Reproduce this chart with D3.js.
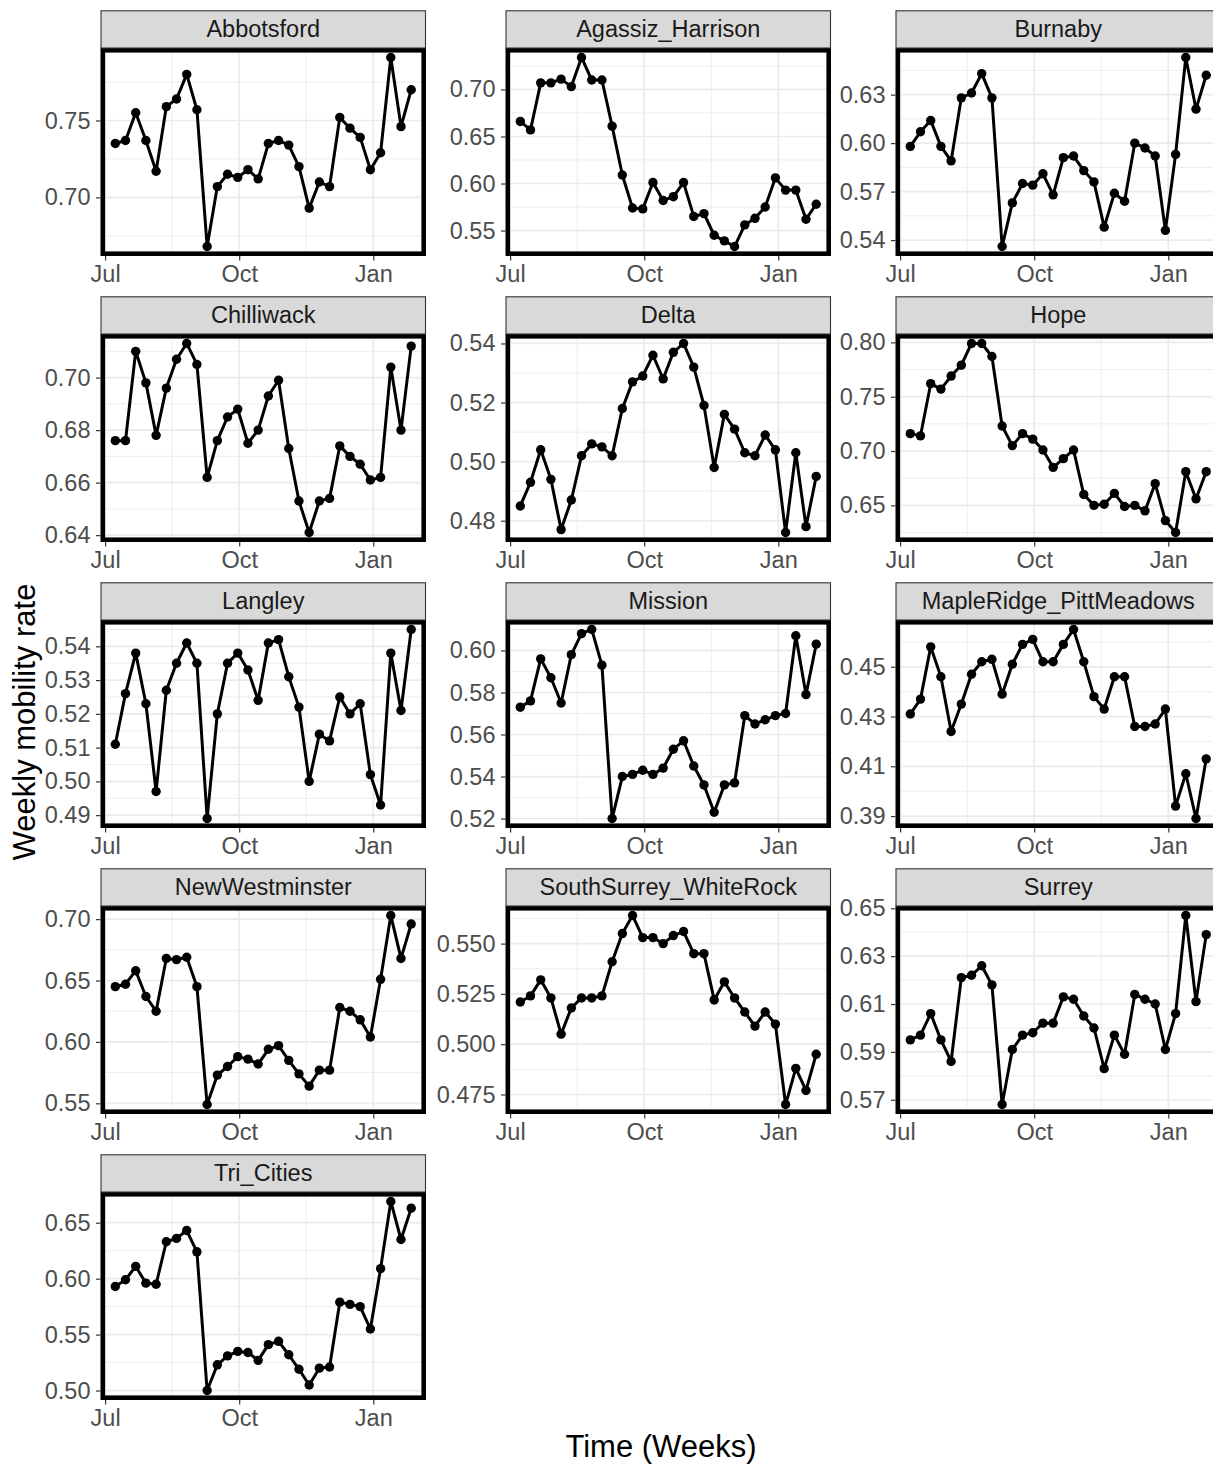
<!DOCTYPE html>
<html>
<head>
<meta charset="utf-8">
<script src="https://cdn.jsdelivr.net/npm/d3@7/dist/d3.min.js"></script>
<style>
  html, body { margin: 0; padding: 0; background: #ffffff; }
  svg { display: block; font-family: "Liberation Sans", Arial, Helvetica, sans-serif; }
</style>
</head>
<body>
<svg id="chart" width="1213" height="1465"></svg>
<script>
// ---------------- DATA ----------------
const facets = ["Abbotsford", "Agassiz_Harrison", "Burnaby", "Chilliwack", "Delta", "Hope",
  "Langley", "Mission", "MapleRidge_PittMeadows", "NewWestminster", "SouthSurrey_WhiteRock",
  "Surrey", "Tri_Cities"];

const weeks = ["2020-07-08","2020-07-15","2020-07-22","2020-07-29","2020-08-05","2020-08-12",
  "2020-08-19","2020-08-26","2020-09-02","2020-09-09","2020-09-16","2020-09-23","2020-09-30",
  "2020-10-07","2020-10-14","2020-10-21","2020-10-28","2020-11-04","2020-11-11","2020-11-18",
  "2020-11-25","2020-12-02","2020-12-09","2020-12-16","2020-12-23","2020-12-30","2021-01-06",
  "2021-01-13","2021-01-20","2021-01-27"];

const xTickDates = ["2020-07-01", "2020-10-01", "2021-01-01"];
const xTickLabels = ["Jul", "Oct", "Jan"];

const abbotsford = [0.735,0.737,0.755,0.737,0.717,0.759,0.764,0.780,0.757,0.668,0.707,0.715,0.713,0.718,0.712,
  0.735,0.737,0.734,0.720,0.693,0.710,0.707,0.752,0.745,0.739,0.718,0.729,0.791,0.746,0.770];
const agassizHarrison = [0.666,0.657,0.707,0.707,0.711,0.703,0.734,0.710,0.710,0.661,0.609,0.574,0.573,0.601,0.582,
  0.586,0.601,0.565,0.568,0.545,0.539,0.533,0.556,0.563,0.575,0.606,0.593,0.593,0.562,0.578];
const burnaby = [0.598,0.607,0.614,0.598,0.589,0.628,0.631,0.643,0.628,0.536,0.563,0.575,0.574,0.581,0.568,
  0.591,0.592,0.583,0.576,0.548,0.569,0.564,0.600,0.597,0.592,0.546,0.593,0.653,0.621,0.642];
const chilliwack = [0.676,0.676,0.710,0.698,0.678,0.696,0.707,0.713,0.705,0.662,0.676,0.685,0.688,0.675,0.680,
  0.693,0.699,0.673,0.653,0.641,0.653,0.654,0.674,0.670,0.667,0.661,0.662,0.704,0.680,0.712];
const delta = [0.485,0.493,0.504,0.494,0.477,0.487,0.502,0.506,0.505,0.502,0.518,0.527,0.529,0.536,0.528,
  0.537,0.540,0.532,0.519,0.498,0.516,0.511,0.503,0.502,0.509,0.504,0.476,0.503,0.478,0.495];
const hope = [0.716,0.714,0.762,0.757,0.769,0.779,0.799,0.799,0.787,0.723,0.705,0.716,0.711,0.701,0.685,
  0.693,0.701,0.660,0.650,0.651,0.661,0.649,0.650,0.645,0.670,0.636,0.625,0.681,0.656,0.681];
const langley = [0.511,0.526,0.538,0.523,0.497,0.527,0.535,0.541,0.535,0.489,0.520,0.535,0.538,0.533,0.524,
  0.541,0.542,0.531,0.522,0.500,0.514,0.512,0.525,0.520,0.523,0.502,0.493,0.538,0.521,0.545];
const mission = [0.573,0.576,0.596,0.587,0.575,0.598,0.608,0.610,0.593,0.520,0.540,0.541,0.543,0.541,0.544,
  0.553,0.557,0.545,0.536,0.523,0.536,0.537,0.569,0.565,0.567,0.569,0.570,0.607,0.579,0.603];
const mapleRidgePittMeadows = [0.431,0.437,0.458,0.446,0.424,0.435,0.447,0.452,0.453,0.439,0.451,0.459,0.461,0.452,0.452,
  0.459,0.465,0.452,0.438,0.433,0.446,0.446,0.426,0.426,0.427,0.433,0.394,0.407,0.389,0.413];
const newWestminster = [0.645,0.647,0.658,0.637,0.625,0.668,0.667,0.669,0.645,0.549,0.573,0.580,0.588,0.586,0.582,
  0.594,0.597,0.585,0.574,0.564,0.577,0.577,0.628,0.625,0.618,0.604,0.651,0.703,0.668,0.696];
const southSurreyWhiteRock = [0.521,0.524,0.532,0.523,0.505,0.518,0.523,0.523,0.524,0.541,0.555,0.564,0.553,0.553,0.550,
  0.554,0.556,0.545,0.545,0.522,0.531,0.523,0.516,0.509,0.516,0.510,0.470,0.488,0.477,0.495];
const surrey = [0.595,0.597,0.606,0.595,0.586,0.621,0.622,0.626,0.618,0.568,0.591,0.597,0.598,0.602,0.602,
  0.613,0.612,0.605,0.600,0.583,0.597,0.589,0.614,0.612,0.610,0.591,0.606,0.647,0.611,0.639];
const triCities = [0.593,0.599,0.611,0.596,0.595,0.633,0.636,0.643,0.624,0.500,0.523,0.531,0.535,0.534,0.527,
  0.541,0.544,0.532,0.519,0.505,0.520,0.521,0.579,0.577,0.575,0.555,0.609,0.669,0.635,0.663];

const seriesValues = [abbotsford, agassizHarrison, burnaby, chilliwack, delta, hope, langley,
  mission, mapleRidgePittMeadows, newWestminster, southSurreyWhiteRock, surrey, triCities];

const yTickLabels = [
  ["0.70","0.75"],
  ["0.55","0.60","0.65","0.70"],
  ["0.54","0.57","0.60","0.63"],
  ["0.64","0.66","0.68","0.70"],
  ["0.48","0.50","0.52","0.54"],
  ["0.65","0.70","0.75","0.80"],
  ["0.49","0.50","0.51","0.52","0.53","0.54"],
  ["0.52","0.54","0.56","0.58","0.60"],
  ["0.39","0.41","0.43","0.45"],
  ["0.55","0.60","0.65","0.70"],
  ["0.475","0.500","0.525","0.550"],
  ["0.57","0.59","0.61","0.63","0.65"],
  ["0.50","0.55","0.60","0.65"]
];

const xTitle = "Time (Weeks)";
const yTitle = "Weekly mobility rate";

// ---------------- LAYOUT ----------------
const colX = [100.5, 505.5, 895.5];
const panelW = 325.5;
const stripTop0 = 10.3, rowPitch = 286, stripH = 37.7, panelH = 208;
const fsTick = 23.5, fsTitle = 31;

const svg = d3.select("#chart");
const parse = d3.utcParse("%Y-%m-%d");
const dates = weeks.map(parse);
const xTicks = xTickDates.map(parse);
const t0 = +dates[0], t1 = +dates[dates.length - 1];
const tSpan = t1 - t0;
const xMinor = d3.pairs(xTicks).map(([a, b]) => new Date((+a + +b) / 2));

const defs = svg.append("defs");

facets.forEach((name, i) => {
  const col = i % 3, row = Math.floor(i / 3);
  const px = colX[col];
  const sy = stripTop0 + row * rowPitch;
  const py = sy + stripH;
  const vals = seriesValues[i];
  const data = dates.map((d, k) => ({ d, v: vals[k] }));

  const x = d3.scaleUtc()
    .domain([new Date(t0 - 0.05 * tSpan), new Date(t1 + 0.05 * tSpan)])
    .range([px, px + panelW]);
  const [vmin, vmax] = d3.extent(vals);
  const r = vmax - vmin;
  const y = d3.scaleLinear().domain([vmin - 0.05 * r, vmax + 0.05 * r]).range([py + panelH, py]);

  const labels = yTickLabels[i];
  const tv = labels.map(Number);
  const step = tv.length > 1 ? tv[1] - tv[0] : 0.05;
  const dom = y.domain();
  const yMinor = [];
  for (let k = -1; k < tv.length; k++) {
    const m = (k < 0 ? tv[0] - step / 2 : tv[k] + step / 2);
    if (m > dom[0] && m < dom[1]) yMinor.push(m);
  }

  const clipId = "clip" + i;
  defs.append("clipPath").attr("id", clipId)
    .append("rect").attr("x", px).attr("y", py).attr("width", panelW).attr("height", panelH);

  const g = svg.append("g");
  g.append("rect").attr("x", px).attr("y", py).attr("width", panelW).attr("height", panelH)
    .attr("fill", "#ffffff");

  const grid = g.append("g").attr("clip-path", `url(#${clipId})`);
  grid.selectAll(".ymin").data(yMinor).join("line")
    .attr("x1", px).attr("x2", px + panelW).attr("y1", d => y(d)).attr("y2", d => y(d))
    .attr("stroke", "#EBEBEB").attr("stroke-width", 0.9);
  grid.selectAll(".xmin").data(xMinor).join("line")
    .attr("y1", py).attr("y2", py + panelH).attr("x1", d => x(d)).attr("x2", d => x(d))
    .attr("stroke", "#EBEBEB").attr("stroke-width", 0.9);
  grid.selectAll(".ymaj").data(tv).join("line")
    .attr("x1", px).attr("x2", px + panelW).attr("y1", d => y(d)).attr("y2", d => y(d))
    .attr("stroke", "#EBEBEB").attr("stroke-width", 1.7);
  grid.selectAll(".xmaj").data(xTicks).join("line")
    .attr("y1", py).attr("y2", py + panelH).attr("x1", d => x(d)).attr("x2", d => x(d))
    .attr("stroke", "#EBEBEB").attr("stroke-width", 1.7);

  const plot = g.append("g").attr("clip-path", `url(#${clipId})`);
  plot.append("path").datum(data)
    .attr("d", d3.line().x(d => x(d.d)).y(d => y(d.v)))
    .attr("fill", "none").attr("stroke", "#000000").attr("stroke-width", 3)
    .attr("stroke-linejoin", "round");
  plot.selectAll("circle").data(data).join("circle")
    .attr("cx", d => x(d.d)).attr("cy", d => y(d.v)).attr("r", 4.7).attr("fill", "#000000");

  const bw = 4.6;
  g.append("rect").attr("x", px + bw / 2).attr("y", py + bw / 2)
    .attr("width", panelW - bw).attr("height", panelH - bw)
    .attr("fill", "none").attr("stroke", "#000000").attr("stroke-width", bw);

  g.append("rect").attr("x", px + 0.5).attr("y", sy + 0.5).attr("width", panelW - 1).attr("height", stripH - 0.5)
    .attr("fill", "#D9D9D9").attr("stroke", "#333333").attr("stroke-width", 1.1);
  g.append("text").attr("x", px + panelW / 2).attr("y", sy + stripH / 2 + 8)
    .attr("text-anchor", "middle").attr("font-size", fsTick).attr("fill", "#1A1A1A").text(name);

  const yAxis = g.append("g").attr("transform", `translate(${px},0)`)
    .call(d3.axisLeft(y).tickValues(tv).tickFormat((d, k) => labels[k]).tickSize(4.5).tickPadding(5.5));
  yAxis.select(".domain").remove();
  yAxis.selectAll(".tick line").attr("stroke", "#333333").attr("stroke-width", 1.2);
  yAxis.selectAll(".tick text").attr("fill", "#4D4D4D").attr("font-size", fsTick)
    .attr("font-family", "Liberation Sans, Arial, sans-serif");

  const xAxis = g.append("g").attr("transform", `translate(0,${py + panelH})`)
    .call(d3.axisBottom(x).tickValues(xTicks).tickFormat((d, k) => xTickLabels[k]).tickSize(4.5).tickPadding(5));
  xAxis.select(".domain").remove();
  xAxis.selectAll(".tick line").attr("stroke", "#333333").attr("stroke-width", 1.2);
  xAxis.selectAll(".tick text").attr("fill", "#4D4D4D").attr("font-size", fsTick)
    .attr("font-family", "Liberation Sans, Arial, sans-serif");
});

svg.append("text").attr("x", 661).attr("y", 1457).attr("text-anchor", "middle")
  .attr("font-size", fsTitle).attr("fill", "#000000").text(xTitle);
svg.append("text").attr("transform", `translate(35,722) rotate(-90)`).attr("text-anchor", "middle")
  .attr("font-size", fsTitle).attr("fill", "#000000").text(yTitle);
</script>
</body>
</html>
